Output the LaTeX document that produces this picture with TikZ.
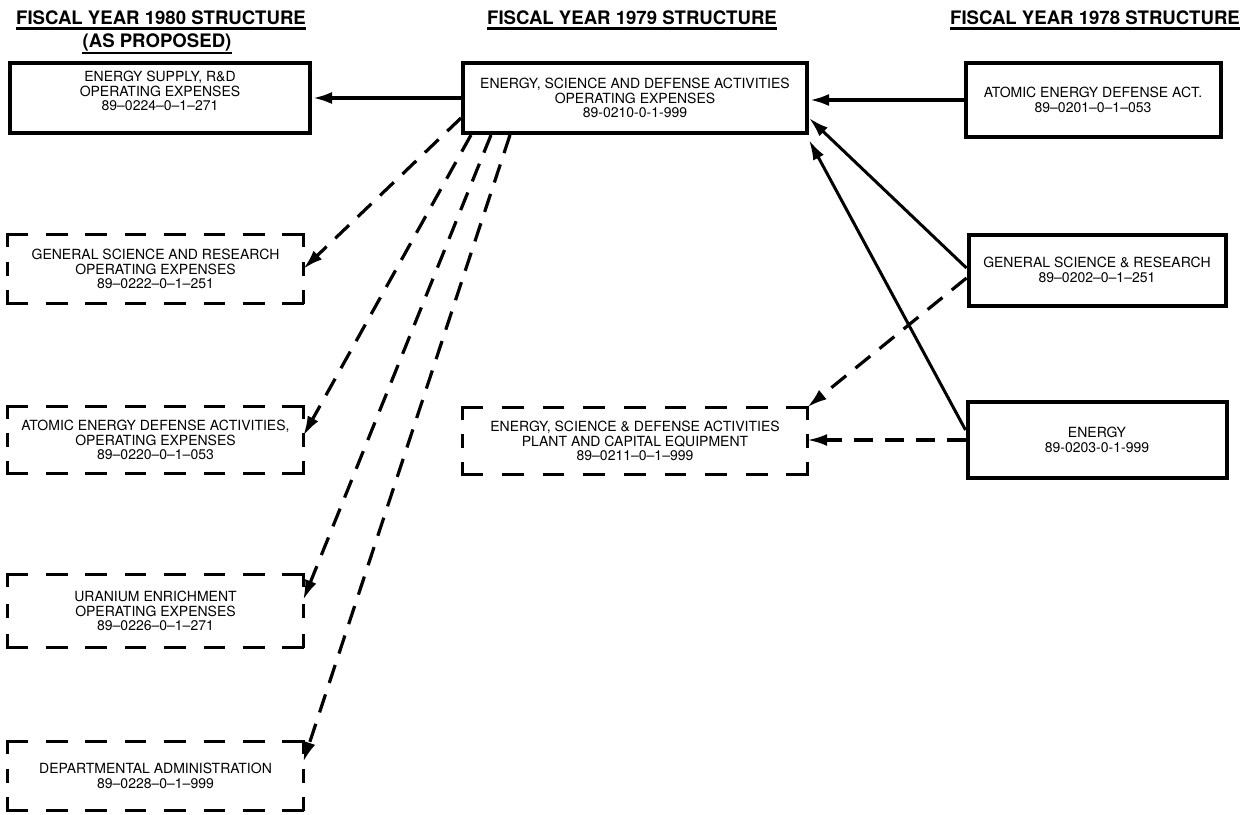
\documentclass[tikz,border=0pt]{standalone}
\usepackage{fontspec}
\setmainfont{TeX Gyre Heros}
\usetikzlibrary{arrows.meta,calc}
\newcommand\dgboxfont{\fontsize{14}{14.8}\selectfont}
\begin{document}
\begin{tikzpicture}[x=1pt,y=-1pt,
  solidbox/.style={draw,line width=4pt,inner sep=0pt,align=center,font=\dgboxfont},
  dashbox/.style={inner sep=0pt,align=center,font=\dgboxfont},
  frameline/.style={line width=2.8pt,line cap=rect},
  boxtext/.style={inner sep=0pt,align=center,font=\dgboxfont},
  header/.style={font=\bfseries\fontsize{18.6}{20}\selectfont,inner sep=0pt,anchor=base},
  uline/.style={line width=2.4pt},
  solidarrow/.style={line width=3pt,-{Latex[length=20pt,width=12pt]}},
  heavyarrow/.style={solidarrow,line width=4pt},
  dasharrow/.style={solidarrow,line width=3.2pt,dash pattern=on 19pt off 12pt},
]
% #1 node, #2 width, #3 height, #4 dashes per horizontal side, #5 dashes per vertical side
\newcommand\dashframe[5]{%
  \pgfmathsetmacro\dfhgap{(#2-#4*19)/(#4-1)}%
  \pgfmathsetmacro\dfvgap{(#3-#5*11)/(#5-1)}%
  \draw[frameline,dash pattern=on 19pt off \dfhgap pt] (#1.north west) -- (#1.north east);
  \draw[frameline,dash pattern=on 19pt off \dfhgap pt] (#1.south west) -- (#1.south east);
  \draw[frameline,dash pattern=on 11pt off \dfvgap pt] (#1.north west) -- (#1.south west);
  \draw[frameline,dash pattern=on 11pt off \dfvgap pt] (#1.north east) -- (#1.south east);}
\fill[white] (0,0) rectangle (1247,814);
\useasboundingbox (0,0) rectangle (1247,814);

% headers
\node[header] (h1) at (161,24) {FISCAL YEAR 1980 STRUCTURE};
\node[header] (h1b) at (157,47) {(AS PROPOSED)};
\node[header] (h2) at (632,24) {FISCAL YEAR 1979 STRUCTURE};
\node[header] (h3) at (1095,24) {FISCAL YEAR 1978 STRUCTURE};
\draw[uline] ($(h1.base west)+(0,4.5)$) -- ($(h1.base east)+(0,4.5)$);
\draw[uline] ($(h1b.base west)+(0,6)$) -- ($(h1b.base east)+(0,6)$);
\draw[uline] ($(h2.base west)+(0,4.5)$) -- ($(h2.base east)+(0,4.5)$);
\draw[uline] ($(h3.base west)+(0,4.5)$) -- ($(h3.base east)+(0,4.5)$);

% 1980 column
\node[solidbox,minimum width=300pt,minimum height=70pt] (s1) at (160,98) {};
\node[boxtext] (s1t) at ($(s1.center)+(0,-7)$) {ENERGY SUPPLY, R\&D\\OPERATING EXPENSES\\89--0224--0--1--271};
\node[dashbox,minimum width=295pt,minimum height=68pt] (d1) at (155.5,269)
  {GENERAL SCIENCE AND RESEARCH\\OPERATING EXPENSES\\89--0222--0--1--251};
\node[dashbox,minimum width=295pt,minimum height=67pt] (d2) at (155.5,440)
  {ATOMIC ENERGY DEFENSE ACTIVITIES,\\OPERATING EXPENSES\\89--0220--0--1--053};
\node[dashbox,minimum width=295pt,minimum height=72pt] (d3) at (155.5,611)
  {URANIUM ENRICHMENT\\OPERATING EXPENSES\\89--0226--0--1--271};
\node[dashbox,minimum width=295pt,minimum height=68pt] (d4) at (155.5,776)
  {DEPARTMENTAL ADMINISTRATION\\89--0228--0--1--999};
\dashframe{d1}{295}{68}{8}{3}
\dashframe{d2}{295}{67}{8}{3}
\dashframe{d3}{295}{72}{8}{3}
\dashframe{d4}{295}{68}{8}{3}

% 1979 column
\node[solidbox,minimum width=344pt,minimum height=70pt] (c1) at (635,98)
  {ENERGY, SCIENCE AND DEFENSE ACTIVITIES\\OPERATING EXPENSES\\89-0210-0-1-999};
\node[dashbox,minimum width=344pt,minimum height=67pt] (c2) at (635,441)
  {ENERGY, SCIENCE \& DEFENSE ACTIVITIES\\PLANT AND CAPITAL EQUIPMENT\\89--0211--0--1--999};
\dashframe{c2}{344}{67}{9}{3}

% 1978 column
\node[solidbox,minimum width=255pt,minimum height=74pt] (r1) at (1093,100)
  {ATOMIC ENERGY DEFENSE ACT.\\89--0201--0--1--053};
\node[solidbox,minimum width=257pt,minimum height=71pt] (r2) at (1097,270)
  {GENERAL SCIENCE \& RESEARCH\\89--0202--0--1--251};
\node[solidbox,minimum width=259pt,minimum height=76pt] (r3) at (1097,440)
  {ENERGY\\89-0203-0-1-999};

% connector end points on the boxes
\coordinate (c1e1) at ($(c1.east)+(0,20)$);
\coordinate (c1e2) at ($(c1.south east)+(0,5)$);
\coordinate (c1w1) at ($(c1.west)+(0,20)$);
\coordinate (c1b1) at ($(c1.south west)+(10,0)$);
\coordinate (c1b2) at ($(c1.south west)+(30,0)$);
\coordinate (c1b3) at ($(c1.south west)+(49,0)$);
\coordinate (r2w1) at ($(r2.west)+(0,-2)$);
\coordinate (r2w2) at ($(r2.west)+(0,8)$);
\coordinate (r3w1) at ($(r3.west)+(0,-10)$);
\coordinate (d2e) at ($(d2.east)+(0,-4)$);
\coordinate (d3e) at ($(d3.east)+(0,-11)$);
\coordinate (d4e) at ($(d4.east)+(0,-14)$);

% connectors
\draw[heavyarrow] (c1.west) -- (s1.east);
\draw[heavyarrow] (r1.west) -- (r1.west -| c1.east);
\draw[solidarrow] (r2w1) -- (c1e1);
\draw[solidarrow] (r3w1) -- (c1e2);
\draw[dasharrow] (r2w2) -- (c2.north east);
\draw[dasharrow] (r3.west) -- (r3.west -| c2.east);
\draw[dasharrow] (c1w1) -- (d1.east);
\draw[dasharrow] (c1b1) -- (d2e);
\draw[dasharrow] (c1b2) -- (d3e);
\draw[dasharrow] (c1b3) -- (d4e);
\end{tikzpicture}
\end{document}
